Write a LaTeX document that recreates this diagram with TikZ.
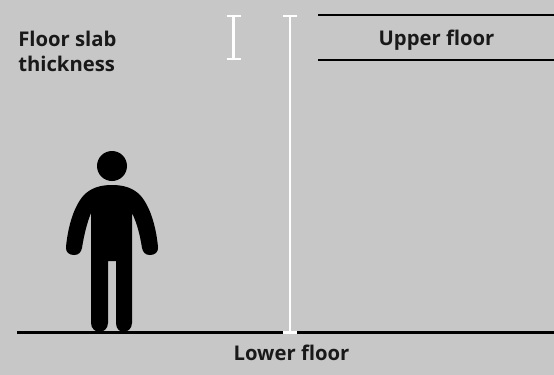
\documentclass[tikz,border=0pt]{standalone}
\usepackage{fontspec}
\setmainfont{Open Sans}
\tikzset{
  px/.style={x=0.75pt,y=-0.75pt},
  slab/.style={draw=black,line width=1.9pt},
  dim/.style={draw=white,line width=2pt},
  lbl/.style={font=\bfseries\fontsize{15.2pt}{19pt}\selectfont,text=black!90,inner sep=0pt},
}
\begin{document}
\begin{tikzpicture}[px]
\useasboundingbox (0,0) rectangle (554,375);
\fill[black!22] (0,0) rectangle (554,375);
% floors
\coordinate (fl) at (17,332.5); \coordinate (fr) at (554,332.5);
\coordinate (ul) at (318,15); \coordinate (ur) at (554,15);
\coordinate (ll) at (318,60); \coordinate (lr) at (554,60);
\draw[slab] (fl) -- (fr);
\draw[slab] (ul) -- (ur);
\draw[slab] (ll) -- (lr);
% dimension markers
\coordinate (a) at (290,16); \coordinate (b) at (290,332.5);
\draw[dim] (a) -- (b);
\draw[dim] (283,16) -- (297,16);
\draw[dim] (283,332.5) -- (297,332.5);
\coordinate (c) at (233.5,16); \coordinate (d) at (233.5,59);
\draw[dim] (c) -- (d);
\draw[dim] (226.5,16) -- (240.5,16);
\draw[dim] (226.5,59) -- (240.5,59);
% person
\fill[black] (112,166) circle (15);
\fill[black]
  (112,185)
  .. controls (124,185) and (133,188) .. (140,195)
  .. controls (150,206) and (156,226) .. (158,247)
  .. controls (158.5,252) and (155,255) .. (150,255)
  .. controls (145,255) and (143,252) .. (142,248)
  .. controls (140,235) and (137,223) .. (132,213)
  -- (132,323)
  .. controls (132,329) and (127,332) .. (123.5,332)
  .. controls (120,332) and (116,329) .. (116,323)
  -- (116,261) -- (108,261) -- (108,323)
  .. controls (108,329) and (103,332) .. (99.5,332)
  .. controls (96,332) and (91,329) .. (91,323)
  -- (91,213)
  .. controls (87,223) and (84,235) .. (82,248)
  .. controls (81,252) and (79,255) .. (74,255)
  .. controls (69,255) and (65.5,252) .. (66,247)
  .. controls (68,226) and (74,206) .. (84,195)
  .. controls (91,188) and (100,185) .. (112,185) -- cycle;
% labels
\node[lbl,anchor=base west] (t1) at (18,46) {Floor slab};
\node[lbl,anchor=base west] (t2) at (18,71.5) {thickness};
\node[lbl,anchor=base] (t3) at (436.5,45.5) {Upper floor};
\node[lbl,anchor=base] (t4) at (291.5,360.5) {Lower floor};
\end{tikzpicture}
\end{document}
